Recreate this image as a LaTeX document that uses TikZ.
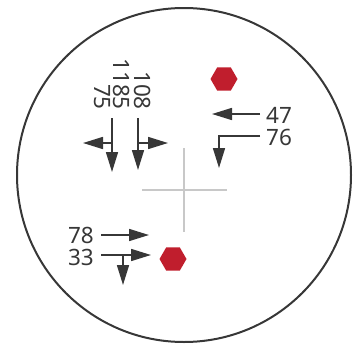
\documentclass[tikz,border=0pt]{standalone}
\usepackage{fontspec}
\setmainfont{Noto Sans}
\usetikzlibrary{arrows.meta,shapes.geometric}
\definecolor{scopegray}{RGB}{55,55,55}
\definecolor{markred}{RGB}{192,30,45}
\definecolor{crossgray}{RGB}{200,200,200}

\begin{document}
\begin{tikzpicture}[x=1pt,y=-1pt,
  every node/.style={font=\fontsize{22.5}{22.5}\selectfont,text=scopegray,inner sep=0pt},
  lead/.style={draw=scopegray,line width=1.6pt},
  ptr/.style={lead,-{Triangle[length=20pt,width=12pt]}},
  target/.style={regular polygon,regular polygon sides=6,minimum size=27pt,
                 fill=markred,draw=none},
  vnum/.style={rotate=-90,anchor=east,font=\fontsize{22.5}{22.5}\selectfont},
  hair/.style={draw=crossgray,line width=1.1pt},
]
\useasboundingbox (0,0) rectangle (353,348);

%% Field of view
\draw[draw=scopegray,line width=2pt] (184,175) circle (167);

%% Crosshair
\coordinate (ctop) at (184,148);
\coordinate (cbot) at (184,232);
\coordinate (clft) at (142,190);
\coordinate (crgt) at (227,190);
\draw[hair] (ctop) -- (cbot);
\draw[hair] (clft) -- (crgt);

%% Targets
\node[target] (tgtA) at (224,79) {};
\node[target] (tgtB) at (173,259) {};

%% Vertical readings
\node[vnum] (n75)   at (102,110) {75};
\node[vnum] (n1185) at (122,110) {1185};
\node[vnum] (n108)  at (143,110) {108};

\coordinate (l75)  at (112,118);
\coordinate (m75)  at (112,143);
\coordinate (e75)  at (112,172);
\coordinate (w75)  at (83,143);
\draw[ptr] (l75) -- (e75);
\draw[ptr] (m75) -- (w75);

\coordinate (l108) at (138,118);
\coordinate (m108) at (138,143);
\coordinate (e108) at (138,170);
\coordinate (w108) at (168,143);
\draw[ptr] (l108) -- (e108);
\draw[ptr] (m108) -- (w108);

%% Right readings
\node[anchor=west] (n47) at (266,115) {47};
\node[anchor=west] (n76) at (266,137) {76};
\coordinate (s47) at (260,114);
\coordinate (t47) at (212,114);
\draw[ptr] (s47) -- (t47);
\coordinate (s76) at (260,136);
\coordinate (t76) at (219,168);
\draw[ptr] (s76) -| (t76);

%% Lower readings
\node[anchor=east] (n78) at (94,235) {78};
\node[anchor=east] (n33) at (94,257) {33};
\coordinate (s78) at (101,235);
\coordinate (t78) at (149,235);
\draw[ptr] (s78) -- (t78);
\coordinate (s33) at (101,255);
\coordinate (t33) at (151,255);
\coordinate (m33) at (123,255);
\coordinate (d33) at (123,285);
\draw[ptr] (s33) -- (t33);
\draw[ptr] (m33) -- (d33);

\end{tikzpicture}
\end{document}
